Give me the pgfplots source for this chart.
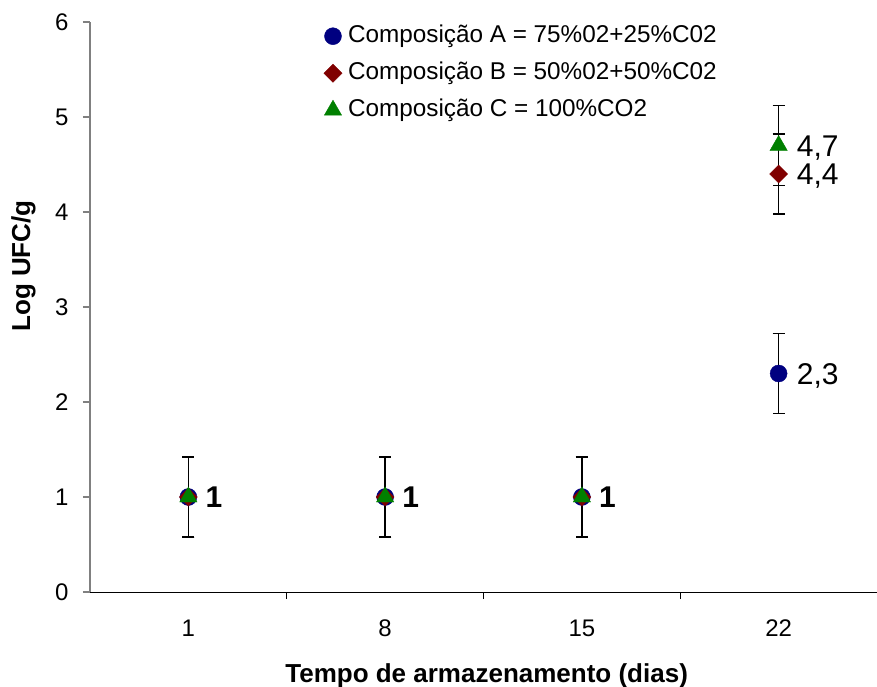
\documentclass[border=0pt]{standalone}
\usepackage{fontspec}
\setmainfont{Liberation Sans}
\usepackage{pgfplots}
\pgfplotsset{compat=1.18}
\definecolor{cA}{HTML}{000080}
\definecolor{cB}{HTML}{800000}
\definecolor{cC}{HTML}{008000}
\begin{document}
\begin{tikzpicture}
\useasboundingbox (-90pt,-94pt) rectangle (787pt,592pt);
\begin{axis}[
  scale only axis, width=787pt, height=570pt,
  at={(0,0)}, anchor=south west,
  xmin=-0.5, xmax=3.5, ymin=0, ymax=6,
  axis x line*=bottom, axis y line*=left,
  x axis line style={black, line width=1pt, -},
  y axis line style={gray, line width=1.2pt, -},
  xtick={0,1,2,3}, xticklabels={1,8,15,22},
  minor xtick={0.5,1.5,2.5,3.5},
  major x tick style={draw=none},
  minor x tick style={black, line width=1pt},
  minor tick length=7pt,
  ytick={0,1,2,3,4,5,6},
  major y tick style={gray, line width=1.2pt},
  major tick length=7pt,
  tick align=outside,
  ticklabel style={font=\fontsize{24}{28}\selectfont},
  /pgf/number format/assume math mode=true,
  xticklabel style={yshift=-17pt},
  yticklabel style={xshift=-11pt},
  xlabel={Tempo de armazenamento (dias)},
  ylabel={Log UFC/g},
  xlabel style={at={(axis description cs:0.504,-0.1579)}, anchor=base, font=\bfseries\fontsize{26}{30}\selectfont},
  ylabel style={at={(axis description cs:-0.0762,0.572)}, anchor=base, font=\bfseries\fontsize{26}{30}\selectfont},
  legend style={at={(rel axis cs:0.297,1.0)}, anchor=north west, draw=none, fill=none,
    inner sep=0pt, row sep=9pt, column sep=4pt,
    nodes={text height=18pt, text depth=6pt, inner sep=2pt},
    font=\fontsize{24.3}{28}\selectfont},
  legend cell align=left,
  clip=false,
]
% error bars (drawn first)
\addplot[draw=none, forget plot, error bars/.cd, y dir=both, y explicit,
  error bar style={draw=black, solid, line width=1.3pt},
  error mark options={rotate=90, mark size=6pt, draw=black, line width=1.3pt}]
  coordinates {(0,1) +- (0,0.42) (1,1) +- (0,0.42) (2,1) +- (0,0.42) (3,2.3) +- (0,0.42)};
\addplot[draw=none, forget plot, error bars/.cd, y dir=both, y explicit,
  error bar style={draw=black, solid, line width=1.3pt},
  error mark options={rotate=90, mark size=6pt, draw=black, line width=1.3pt}]
  coordinates {(0,1) +- (0,0.42) (1,1) +- (0,0.42) (2,1) +- (0,0.42) (3,4.4) +- (0,0.42)};
\addplot[draw=none, forget plot, error bars/.cd, y dir=both, y explicit,
  error bar style={draw=black, solid, line width=1.3pt},
  error mark options={rotate=90, mark size=6pt, draw=black, line width=1.3pt}]
  coordinates {(0,1) +- (0,0.42) (1,1) +- (0,0.42) (2,1) +- (0,0.42) (3,4.7) +- (0,0.42)};
% markers
\addplot[only marks, mark=*, mark size=8.5pt, mark options={fill=cA, draw=cA}]
  coordinates {(0,1) (1,1) (2,1) (3,2.3)};
\addlegendentry{Composição A = 75\%02+25\%C02}
\addplot[only marks, mark=square*, mark size=6.4pt, mark options={fill=cB, draw=cB, rotate=45}]
  coordinates {(0,1) (1,1) (2,1) (3,4.4)};
\addlegendentry{Composição B = 50\%02+50\%C02}
\addplot[only marks, mark=triangle*, mark size=10pt, mark options={fill=cC, draw=cC}]
  coordinates {(0,1) (1,1) (2,1) (3,4.7)};
\addlegendentry{Composição C = 100\%CO2}
% data labels
\addplot[draw=none, forget plot, nodes near coords, point meta=explicit symbolic,
  nodes near coords style={anchor=base west, xshift=17pt, yshift=-10.7pt, inner sep=0pt,
    text height=21pt, text depth=3pt,
    font=\bfseries\fontsize{30}{34}\selectfont, text=black}]
  table[meta=lab] {
x y lab
0 1 1
1 1 1
2 1 1
};
\addplot[draw=none, forget plot, nodes near coords, point meta=explicit symbolic,
  nodes near coords style={anchor=base west, xshift=18pt, yshift=-10.7pt, inner sep=0pt,
    text height=21pt, text depth=3pt,
    font=\fontsize{30}{34}\selectfont, text=black}]
  table[meta=lab] {
x y lab
3 2.3 2,3
3 4.4 4,4
3 4.7 4,7
};
\end{axis}
\end{tikzpicture}
\end{document}
